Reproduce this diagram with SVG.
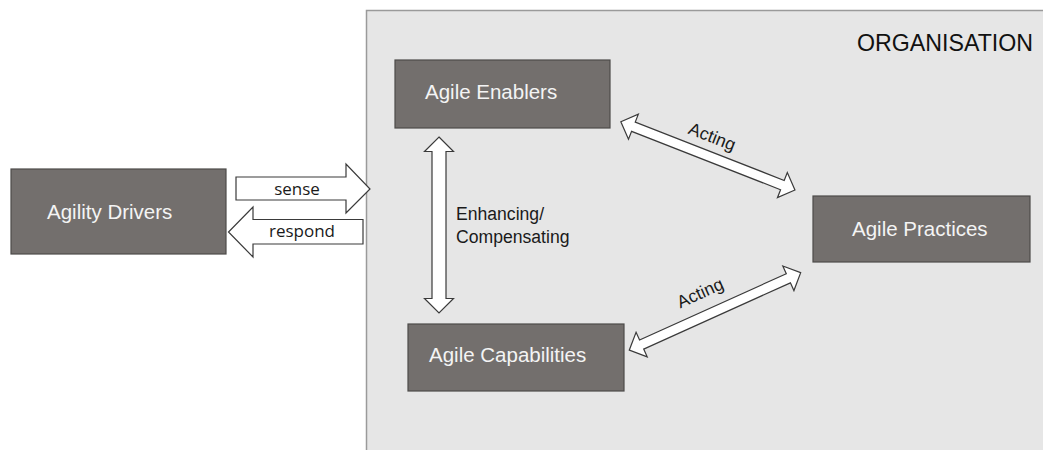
<svg xmlns="http://www.w3.org/2000/svg" width="1043" height="450" viewBox="0 0 1043 450">
<style>
.node{fill:#736f6d;stroke:#4d4b4a;stroke-width:1.2}
.nt{font-family:"Liberation Sans",Arial,sans-serif;font-size:20.5px;fill:#f4f4f4}
.arr{fill:#ffffff;stroke:#3a3a3a;stroke-width:1.2;stroke-linejoin:miter}
.lbl{font-family:"Liberation Sans",Arial,sans-serif;font-size:17.6px;fill:#1a1a1a}
.lbl2{font-family:"Open Sans",sans-serif;font-size:17px;fill:#1a1a1a}
</style>
<rect x="0" y="0" width="1043" height="450" fill="#ffffff"/>
<g id="organisation">
<rect x="366.5" y="10.5" width="690" height="450" fill="#e6e6e6" stroke="#9a9a9a" stroke-width="1.5"/>
<text x="857" y="51" font-family="Liberation Sans,Arial,sans-serif" font-size="23.2" fill="#111">ORGANISATION</text>
</g>
<g id="agility-drivers">
<rect class="node" x="11" y="169" width="215" height="85"/>
<text class="nt" x="47" y="219">Agility Drivers</text>
</g>
<g id="agile-enablers">
<rect class="node" x="395" y="60" width="215" height="68"/>
<text class="nt" x="425" y="99">Agile Enablers</text>
</g>
<g id="agile-capabilities">
<rect class="node" x="408" y="324" width="216" height="67"/>
<text class="nt" x="429" y="362">Agile Capabilities</text>
</g>
<g id="agile-practices">
<rect class="node" x="813" y="196" width="217" height="66"/>
<text class="nt" x="852" y="236">Agile Practices</text>
</g>
<g id="connectors">
<polygon class="arr" points="236,177 346,177 346,164 370,189 346,213 346,200 236,200"/>
<text class="lbl2" x="297" y="195" text-anchor="middle">sense</text>
<polygon class="arr" points="363,219.5 253,219.5 253,207 228.5,232 253,257 253,244 363,244"/>
<text class="lbl2" x="302" y="237" text-anchor="middle">respond</text>
<polygon class="arr" points="439,137 453.5,151.5 446,151.5 446,298.5 453.5,298.5 439,313 424.5,298.5 432,298.5 432,151.5 424.5,151.5"/>
<text class="lbl" x="456" y="220">Enhancing/</text>
<text class="lbl" x="456" y="243">Compensating</text>
<g transform="translate(707.9,155.9) rotate(21.4)">
<polygon class="arr" points="-93.5,0 -80,-13.5 -80,-5 80,-5 80,-13.5 93.5,0 80,13.5 80,5 -80,5 -80,13.5"/>
<text class="lbl" x="-3" y="-13.5" text-anchor="middle" font-size="16.5">Acting</text>
</g>
<g transform="translate(715,311.4) rotate(-24.3)">
<polygon class="arr" points="-94,0 -80.5,-13.5 -80.5,-5 80.5,-5 80.5,-13.5 94,0 80.5,13.5 80.5,5 -80.5,5 -80.5,13.5"/>
<text class="lbl" x="-6" y="-17" text-anchor="middle" font-size="16.5">Acting</text>
</g>
</g>
</svg>
